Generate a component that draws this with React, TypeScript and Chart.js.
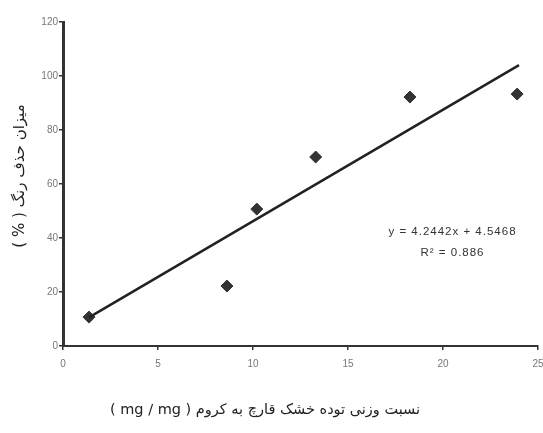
import React, { useEffect, useRef } from "react";
import { Chart, registerables } from "chart.js";

Chart.register(...registerables);

const xValues = [1.37, 8.63, 10.2, 13.3, 18.26, 23.9];
const yValues = [10.7, 22.2, 50.7, 70, 92.2, 93.3];
const trendX = [1.37, 24.0];
const trendY = [10.6, 104];
const xTicks = [0, 5, 10, 15, 20, 25];
const yTicks = [0, 20, 40, 60, 80, 100, 120];
const equationLines = ["y = 4.2442x + 4.5468", "R² = 0.886"];
const yTitle = "میزان حذف رنگ ( % )";
const xTitle = "نسبت وزنی توده خشک قارچ به کروم ( mg / mg )";

const CANVAS_W = 560;

const textPlugin = {
  id: "texts",
  afterDraw(chart: any) {
    const ctx = chart.ctx;
    const xs = chart.scales.x;
    const ys = chart.scales.y;
    ctx.save();
    ctx.fillStyle = "#333";
    ctx.font = "11.5px 'Liberation Sans', Arial, sans-serif";
    (ctx as any).letterSpacing = "1px";
    ctx.textAlign = "center";
    ctx.textBaseline = "middle";
    ctx.fillText(equationLines[0], xs.getPixelForValue(20.5), ys.getPixelForValue(42.2));
    ctx.fillText(equationLines[1], xs.getPixelForValue(20.5), ys.getPixelForValue(34.5));
    (ctx as any).letterSpacing = "0px";
    // x title (rtl)
    ctx.font = "14.5px 'DejaVu Sans', 'Liberation Sans', sans-serif";
    ctx.fillStyle = "#222";
    ctx.direction = "rtl";
    ctx.fillText(xTitle, 265, 410);
    // y title (rtl)
    ctx.font = "15px 'DejaVu Sans', 'Liberation Sans', sans-serif";
    ctx.translate(20, 176);
    ctx.rotate(-Math.PI / 2);
    ctx.fillText(yTitle, 0, 0);
    ctx.restore();
  },
};

export default function App() {
  const ref = useRef<HTMLCanvasElement>(null);
  useEffect(() => {
    if (!ref.current) return;
    const chart = new Chart(ref.current, {
      type: "scatter",
      data: {
        datasets: [
          {
            type: "line",
            data: trendX.map((x, i) => ({ x, y: trendY[i] })),
            borderColor: "#222",
            borderWidth: 2.5,
            pointRadius: 0,
            fill: false,
          } as any,
          {
            data: xValues.map((x, i) => ({ x, y: yValues[i] })),
            pointStyle: "rectRot",
            pointRadius: 6,
            backgroundColor: "#333",
            borderColor: "#333",
          },
        ],
      },
      options: {
        animation: false,
        responsive: false,
        plugins: { legend: { display: false }, tooltip: { enabled: false } },
        layout: { padding: { top: 22, right: CANVAS_W - 538, left: 0, bottom: 0 } },
        scales: {
          x: {
            type: "linear",
            min: 0,
            max: 25,
            afterBuildTicks: (s: any) => {
              s.ticks = xTicks.map((v) => ({ value: v }));
            },
            afterFit: (s: any) => {
              s.height = 87;
            },
            grid: { drawOnChartArea: false, drawTicks: true, tickLength: 4, color: "#333", lineWidth: 1.5 },
            border: { display: true, color: "#333", width: 2 },
            ticks: {
              color: "#777",
              font: { size: 10, family: "'Liberation Sans', Arial, sans-serif" },
              padding: 8,
              maxRotation: 0,
              autoSkip: false,
            },
          },
          y: {
            type: "linear",
            min: 0,
            max: 120,
            afterBuildTicks: (s: any) => {
              s.ticks = yTicks.map((v) => ({ value: v }));
            },
            afterFit: (s: any) => {
              s.width = 63;
            },
            grid: { drawOnChartArea: false, drawTicks: true, tickLength: 4, color: "#333", lineWidth: 1.5 },
            border: { display: true, color: "#333", width: 3 },
            ticks: {
              color: "#777",
              font: { size: 10, family: "'Liberation Sans', Arial, sans-serif" },
              padding: 1,
              autoSkip: false,
            },
          },
        },
      },
      plugins: [textPlugin],
    });
    return () => chart.destroy();
  }, []);
  return (
    <div style={{ position: "fixed", left: 0, top: 0, width: 543, height: 433, overflow: "hidden", background: "#fff" }}>
      <canvas ref={ref} width={CANVAS_W} height={433} style={{ width: CANVAS_W, height: 433, display: "block" }} />
    </div>
  );
}
